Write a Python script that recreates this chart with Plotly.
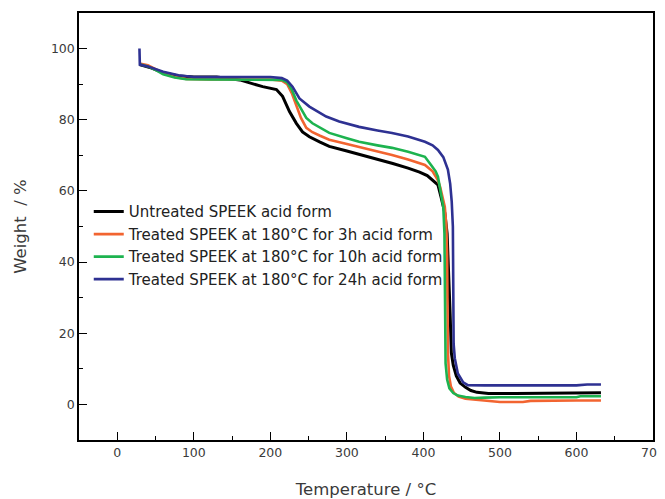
import plotly.graph_objects as go

# ---- data (Temperature °C, Weight %) ----
names = [
    "Untreated SPEEK acid form",
    "Treated SPEEK at 180°C for 3h acid form",
    "Treated SPEEK at 180°C for 10h acid form",
    "Treated SPEEK at 180°C for 24h acid form",
]

t_black = [29, 35, 45, 60, 80, 100, 130, 160, 173, 190, 208, 216, 225, 234, 242, 251, 265, 277,
           300, 320, 340, 360, 380, 395, 405, 412, 419, 423, 428, 431, 433, 435, 436.5, 439,
           443, 448, 455, 462, 470, 485, 520, 570, 575, 600, 632]
w_black = [95.5, 95.2, 94.5, 93.2, 92.3, 92.0, 92.0, 91.2, 90.4, 89.3, 88.5, 86.6, 82.3, 79.0, 76.6,
           75.2, 73.7, 72.5, 71.2, 70.1, 68.9, 67.7, 66.4, 65.3, 64.3, 63.0, 61.7, 58.3, 53.8, 48.0,
           38.0, 25.0, 14.5, 11.0, 8.0, 6.0, 4.8, 3.9, 3.4, 3.1, 3.1, 3.1, 3.3, 3.3, 3.3]

t_red = [29, 40, 50, 60, 75, 90, 120, 160, 200, 215, 222, 228, 234, 240, 247, 255, 265, 277, 300,
         316, 340, 359, 380, 402, 412, 419, 422, 425, 428, 430, 431, 431.5, 432, 433.5, 436, 440,
         446, 455, 470, 490, 500, 530, 540, 600, 632]
w_red = [95.8, 95.3, 94.2, 93.0, 92.0, 91.5, 91.3, 91.3, 91.3, 91.0, 90.0, 87.5, 83.7, 80.5, 77.7,
         76.5, 75.5, 74.4, 73.2, 72.4, 71.2, 70.1, 68.8, 67.3, 65.5, 63.0, 61.0, 58.5, 55.5, 50.0,
         42.0, 28.0, 15.0, 8.0, 5.0, 3.2, 2.2, 1.6, 1.3, 1.1, 0.7, 0.7, 1.0, 1.1, 1.1]

t_green = [29, 40, 50, 60, 75, 90, 120, 160, 200, 215, 222, 228, 234, 240, 247, 255, 265, 277, 300,
           316, 340, 359, 380, 402, 410, 416, 419, 423, 426, 427.5, 428, 428.5, 429, 431, 434, 439,
           445, 455, 467, 480, 500, 560, 600, 605, 632]
w_green = [95.6, 95.0, 94.0, 92.8, 91.9, 91.4, 91.3, 91.3, 91.4, 91.2, 90.5, 88.5, 85.4, 83.0, 80.5,
           79.0, 77.8, 76.3, 74.8, 73.8, 72.8, 72.1, 71.0, 69.6, 67.3, 65.5, 64.0, 59.4, 55.5, 48.0,
           35.0, 20.0, 11.5, 7.0, 4.5, 3.2, 2.5, 2.1, 1.8, 1.9, 2.0, 2.0, 2.0, 2.3, 2.3]

t_blue = [29, 29.5, 40, 50, 60, 80, 100, 150, 200, 215, 222, 229, 238, 251, 262, 273, 290, 316, 340,
          359, 380, 402, 412, 419, 426, 430, 432, 435, 437, 438.5, 439, 439.5, 441, 445, 452, 458,
          480, 540, 600, 614, 632]
w_blue = [100.0, 95.5, 95.0, 94.3, 93.5, 92.5, 92.0, 92.0, 92.0, 91.7, 91.0, 89.3, 86.0, 83.7, 82.2,
          80.9, 79.5, 78.0, 77.0, 76.3, 75.3, 73.8, 72.8, 71.5, 69.5, 67.5, 66.0, 62.0, 57.0, 50.0,
          35.0, 17.0, 13.0, 8.7, 6.2, 5.4, 5.35, 5.35, 5.35, 5.6, 5.6]

x_ticks = [0, 100, 200, 300, 400, 500, 600, 700]
y_ticks = [0, 20, 40, 60, 80, 100]

colors = ["#000000", "#f26430", "#1db34f", "#2e3192"]
widths = [3, 2.6, 2.6, 2.6]
series = [(t_black, w_black), (t_red, w_red), (t_green, w_green), (t_blue, w_blue)]

fig = go.Figure()
for (tx, wy), nm, c, lw in zip(series, names, colors, widths):
    fig.add_trace(go.Scatter(x=tx, y=wy, mode="lines", name=nm,
                             line=dict(color=c, width=lw)))

axis_font = dict(family="DejaVu Sans", size=12.5, color="#3a3a3a")
title_font = dict(family="DejaVu Sans", size=16.5, color="#3a3a3a")

# the page body adds an 8px margin, so the figure is sized to fit the window
fig.update_layout(
    width=657, height=491,
    margin=dict(l=71, r=12, t=5, b=59),
    paper_bgcolor="white", plot_bgcolor="white",
    showlegend=True,
    legend=dict(x=0.017, y=0.573, xanchor="left", yanchor="top",
                bgcolor="rgba(0,0,0,0)", tracegroupgap=0,
                font=dict(family="DejaVu Sans", size=15, color="#222222")),
    xaxis=dict(range=[-50, 700], tickvals=x_ticks, ticks="inside", ticklen=8,
               tickwidth=1.2, tickcolor="black", automargin=False,
               ticklabeloverflow="allow",
               minor=dict(dtick=50, ticks="inside", ticklen=4, tickcolor="black", tickwidth=1),
               showline=True, linecolor="black", linewidth=1.5, mirror=True,
               showgrid=False, zeroline=False, tickfont=axis_font,
               title=dict(text="Temperature / °C", font=title_font, standoff=27)),
    yaxis=dict(range=[-10, 110], tickvals=y_ticks, ticks="inside", ticklen=8,
               tickwidth=1.2, tickcolor="black", automargin=False,
               minor=dict(dtick=10, ticks="inside", ticklen=4, tickcolor="black", tickwidth=1),
               showline=True, linecolor="black", linewidth=1.5, mirror=True,
               showgrid=False, zeroline=False, tickfont=axis_font,
               title=dict(text="Weight  / %", font=title_font, standoff=20)),
)

fig.write_html("out.html")
